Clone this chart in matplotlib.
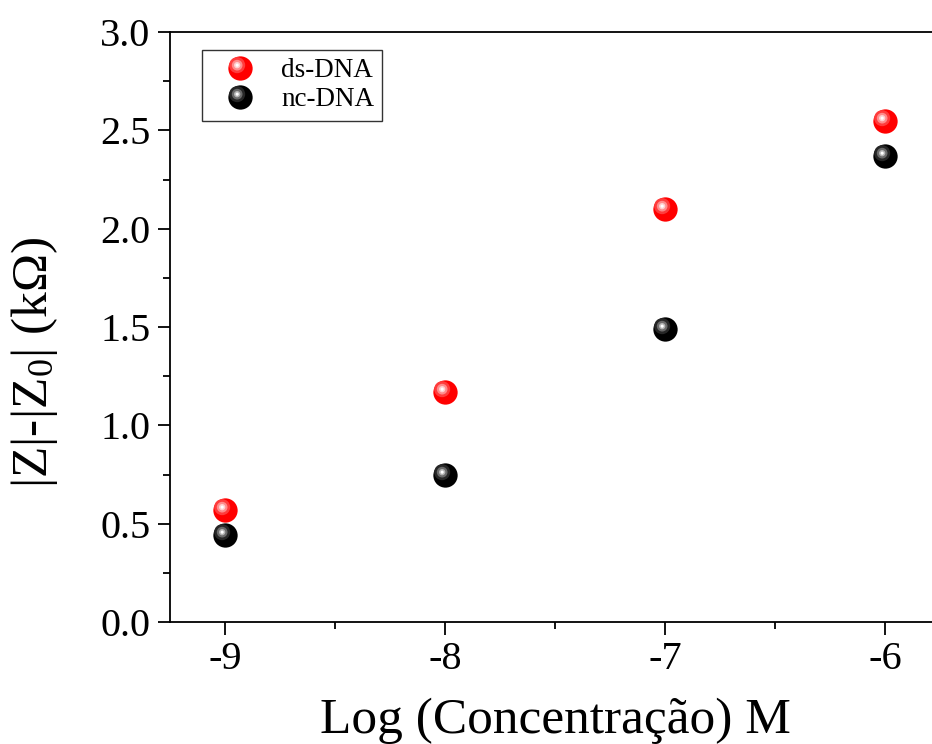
import matplotlib

matplotlib.use("Agg")
import matplotlib.pyplot as plt
from matplotlib.legend_handler import HandlerTuple
from matplotlib.markers import MarkerStyle
from matplotlib.transforms import Affine2D
from matplotlib.ticker import MultipleLocator

log_conc = [-9, -8, -7, -6]
ds_dna = [0.57, 1.17, 2.10, 2.55]
nc_dna = [0.44, 0.75, 1.49, 2.37]

plt.rcParams["font.family"] = ["Liberation Serif", "DejaVu Serif"]
plt.rcParams["mathtext.fontset"] = "custom"
plt.rcParams["mathtext.rm"] = "Liberation Serif"
plt.rcParams["mathtext.it"] = "Liberation Serif:italic"

SIZE = 17.5        # sphere diameter in points
SHIFT = 2.4        # highlight offset toward upper-left, points

# shading layers for a glossy sphere: (relative size, colour)
SHADES = {
    "red": [(1.0, "#ff0000"), (0.66, "#ff3c3c"), (0.44, "#ff8c8c"),
            (0.26, "#ffd0d0"), (0.13, "#ffffff")],
    "black": [(1.0, "#000000"), (0.66, "#262626"), (0.44, "#6a6a6a"),
              (0.26, "#b4b4b4"), (0.13, "#ffffff")],
}


def sphere_layers(ax, x, y, tone):
    handles = []
    for rel, color in SHADES[tone]:
        ms = SIZE * rel
        if rel < 1.0:
            shift = Affine2D().translate(-SHIFT / ms, SHIFT / ms)
            marker = MarkerStyle("o", transform=shift)
        else:
            marker = MarkerStyle("o")
        (line,) = ax.plot(
            x, y, linestyle="none", marker=marker, markersize=ms,
            markerfacecolor=color, markeredgewidth=0, zorder=3,
        )
        handles.append(line)
    return tuple(handles)


fig = plt.figure(figsize=(9.32, 7.44), dpi=100)
ax = fig.add_axes([170 / 932, 122 / 744, 770 / 932, 590 / 744])

h_ds = sphere_layers(ax, log_conc, ds_dna, "red")
h_nc = sphere_layers(ax, log_conc, nc_dna, "black")

ax.set_xlim(-9.25, -5.75)
ax.set_ylim(0.0, 3.0)
ax.xaxis.set_major_locator(MultipleLocator(1))
ax.xaxis.set_minor_locator(MultipleLocator(0.5))
ax.yaxis.set_major_locator(MultipleLocator(0.5))
ax.yaxis.set_minor_locator(MultipleLocator(0.25))
ax.yaxis.set_major_formatter(plt.FormatStrFormatter("%.1f"))
ax.xaxis.set_major_formatter(plt.FuncFormatter(lambda v, _: f"{int(v)}"))

ax.tick_params(which="both", direction="out", width=1.3, labelsize=29,
               top=False, right=False)
ax.tick_params(which="major", length=9, pad=5)
ax.tick_params(which="minor", length=5)
for spine in ax.spines.values():
    spine.set_linewidth(1.3)

ax.set_xlabel("Log (Concentração) M", fontsize=37, labelpad=14)
ax.set_ylabel(r"|Z|-|Z$_{\mathrm{0}}$| (kΩ)", fontsize=37)
ax.yaxis.set_label_coords(-0.143, 0.44)

leg = ax.legend(
    [h_ds, h_nc], ["ds-DNA", "nc-DNA"],
    handler_map={tuple: HandlerTuple(ndivide=1, pad=0)},
    loc="upper left", bbox_to_anchor=(0.042, 0.969), borderaxespad=0,
    fontsize=19.5, frameon=True, fancybox=False, edgecolor="black",
    numpoints=1, handlelength=2.2, handletextpad=0.4, labelspacing=0.15,
    borderpad=0.3,
)
leg.get_frame().set_linewidth(1.0)

fig.savefig("out.png", dpi=100)
